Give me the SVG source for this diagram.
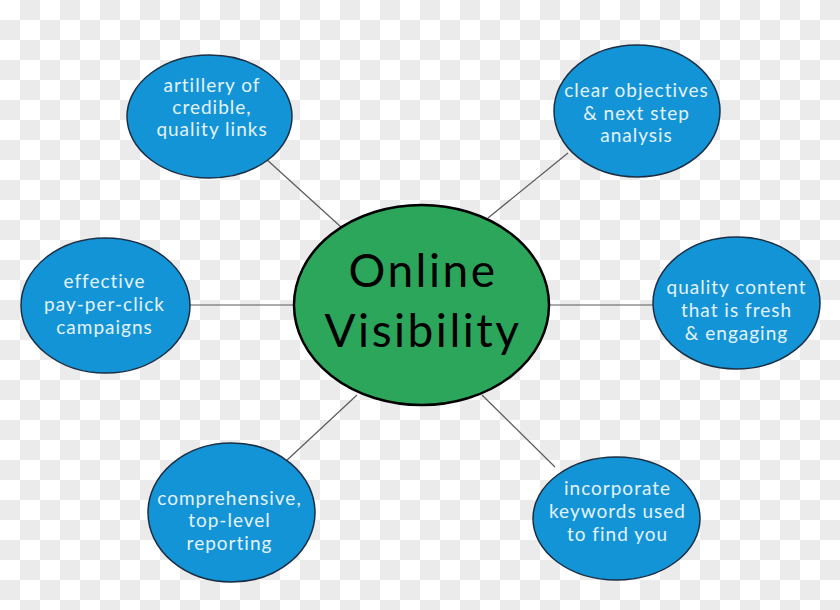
<svg xmlns="http://www.w3.org/2000/svg" width="840" height="610" viewBox="0 0 840 610">
<defs>
<pattern id="checker" x="0" y="0" width="40" height="40" patternUnits="userSpaceOnUse">
<rect width="40" height="40" fill="#ffffff"/>
<rect x="20" y="0" width="20" height="20" fill="#ebebeb"/>
<rect x="0" y="20" width="20" height="20" fill="#ebebeb"/>
</pattern>
<style>
.sat{fill:#1394d6;stroke:#1b2f45;stroke-width:1.5}
.sat-t{font-family:Lato,"Open Sans","Liberation Sans",sans-serif;font-size:19px;letter-spacing:1px;fill:#e3f2fb;text-anchor:middle}
.hub{fill:#2ba65b;stroke:#000;stroke-width:2.5}
.hub-t{font-family:Lato,"Open Sans","Liberation Sans",sans-serif;font-size:46px;letter-spacing:2.5px;fill:#000;text-anchor:middle}
.con{stroke:#5a5a5a;stroke-width:1.2;fill:none}
</style>
</defs>
<rect width="840" height="610" fill="url(#checker)"/>
<g id="connectors">
<line class="con" x1="265" y1="158" x2="341" y2="227"/>
<line class="con" x1="568" y1="153" x2="488" y2="218"/>
<line class="con" x1="190" y1="305" x2="295" y2="305"/>
<line class="con" x1="548" y1="305" x2="653" y2="305"/>
<line class="con" x1="357" y1="395" x2="285" y2="462"/>
<line class="con" x1="482" y1="395" x2="555" y2="467"/>
</g>
<g id="hub">
<ellipse class="hub" cx="421.5" cy="305" rx="127.5" ry="100"/>
<text class="hub-t" x="423" y="287">Online</text>
<text class="hub-t" x="423" y="347">Visibility</text>
</g>
<g id="node-links">
<ellipse class="sat" cx="209.5" cy="116.5" rx="82.5" ry="61.5"/>
<text class="sat-t" x="212" y="92">artillery of</text>
<text class="sat-t" x="212" y="114">credible,</text>
<text class="sat-t" x="212" y="136">quality links</text>
</g>
<g id="node-objectives">
<ellipse class="sat" cx="637" cy="111" rx="83" ry="66"/>
<text class="sat-t" x="636.5" y="97">clear objectives</text>
<text class="sat-t" x="636.5" y="120">&amp; next step</text>
<text class="sat-t" x="636.5" y="142">analysis</text>
</g>
<g id="node-ppc">
<ellipse class="sat" cx="105.5" cy="305.5" rx="84.5" ry="67.5"/>
<text class="sat-t" x="104.5" y="288">effective</text>
<text class="sat-t" x="104.5" y="311">pay-per-click</text>
<text class="sat-t" x="104.5" y="334">campaigns</text>
</g>
<g id="node-content">
<ellipse class="sat" cx="736.5" cy="303" rx="83.5" ry="66"/>
<text class="sat-t" x="736.5" y="294">quality content</text>
<text class="sat-t" x="736.5" y="317">that is fresh</text>
<text class="sat-t" x="736.5" y="340">&amp; engaging</text>
</g>
<g id="node-reporting">
<ellipse class="sat" cx="231.5" cy="512.5" rx="83.5" ry="69.5"/>
<text class="sat-t" x="229.5" y="505">comprehensive,</text>
<text class="sat-t" x="229.5" y="527">top-level</text>
<text class="sat-t" x="229.5" y="550">reporting</text>
</g>
<g id="node-keywords">
<ellipse class="sat" cx="616.5" cy="518.5" rx="83.5" ry="61.5"/>
<text class="sat-t" x="617.5" y="495">incorporate</text>
<text class="sat-t" x="617.5" y="518">keywords used</text>
<text class="sat-t" x="617.5" y="541">to find you</text>
</g>
</svg>
